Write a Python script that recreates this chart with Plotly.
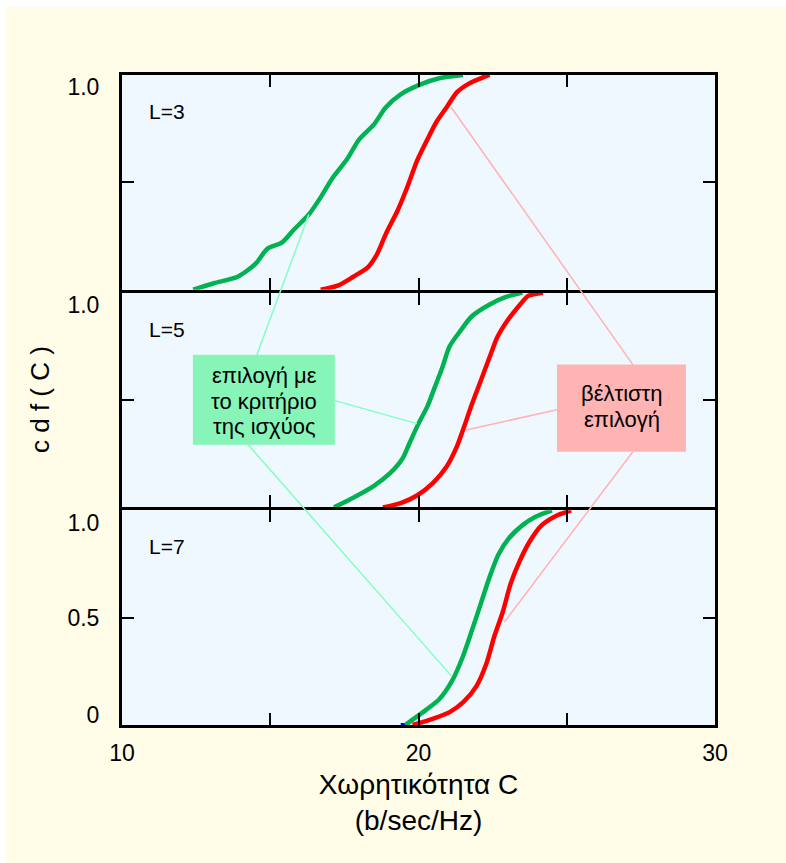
import plotly.graph_objects as go
from plotly.subplots import make_subplots

# ---------------- data ----------------
x_range = [10, 30]
x_label_vals = [10, 20, 30]
x_label_text = ["10", "20", "30"]
x_tick_marks = [15, 20, 25]
panel_labels = ["L=3", "L=5", "L=7"]

# L=3
l3_power_c = [12.4, 13.1, 13.9, 14.5, 14.9, 15.4, 15.8, 16.3, 16.7, 17.1, 17.6, 18.0, 18.5, 18.9, 19.4, 20.05, 20.7, 21.5]
l3_power_cdf = [0, 0.03, 0.06, 0.12, 0.19, 0.22, 0.28, 0.35, 0.43, 0.52, 0.61, 0.70, 0.77, 0.85, 0.91, 0.955, 0.985, 1.0]
l3_opt_c = [16.7, 17.3, 17.8, 18.3, 18.6, 18.9, 19.3, 19.6, 19.95, 20.3, 20.6, 20.95, 21.3, 21.7, 22.2, 22.4]
l3_opt_cdf = [0, 0.02, 0.06, 0.105, 0.165, 0.26, 0.37, 0.47, 0.60, 0.70, 0.78, 0.85, 0.92, 0.96, 0.99, 1.0]

# L=5
l5_power_c = [17.15, 17.8, 18.5, 19.05, 19.45, 19.7, 20.0, 20.3, 20.55, 20.8, 21.05, 21.4, 21.8, 22.4, 22.95, 23.5]
l5_power_cdf = [0, 0.045, 0.10, 0.16, 0.225, 0.30, 0.39, 0.47, 0.56, 0.65, 0.75, 0.82, 0.89, 0.945, 0.98, 1.0]
l5_opt_c = [18.8, 19.4, 19.95, 20.5, 20.95, 21.3, 21.55, 21.8, 22.1, 22.4, 22.65, 23.0, 23.4, 23.7, 24.2]
l5_opt_cdf = [0, 0.02, 0.055, 0.115, 0.19, 0.285, 0.38, 0.48, 0.59, 0.70, 0.79, 0.87, 0.94, 0.985, 1.0]

# L=7
l7_blue_c = [19.4, 19.7]
l7_blue_cdf = [0, 0]
l7_power_c = [19.55, 20.15, 20.7, 21.15, 21.5, 21.8, 22.1, 22.4, 22.7, 23.05, 23.5, 23.95, 24.5]
l7_power_cdf = [0, 0.06, 0.12, 0.21, 0.32, 0.44, 0.565, 0.69, 0.795, 0.87, 0.93, 0.97, 1.0]
l7_opt_c = [19.8, 20.5, 21.05, 21.5, 21.95, 22.3, 22.55, 22.85, 23.1, 23.4, 23.75, 24.15, 24.65, 25.15]
l7_opt_cdf = [0, 0.03, 0.06, 0.105, 0.18, 0.29, 0.41, 0.53, 0.655, 0.76, 0.855, 0.93, 0.975, 1.0]

power_series = [(l3_power_c, l3_power_cdf), (l5_power_c, l5_power_cdf), (l7_power_c, l7_power_cdf)]
opt_series = [(l3_opt_c, l3_opt_cdf), (l5_opt_c, l5_opt_cdf), (l7_opt_c, l7_opt_cdf)]

green_box_lines = ["επιλογή με", "το κριτήριο", "της ισχύος"]
red_box_lines = ["βέλτιστη", "επιλογή"]
# pointer targets on curves: (panel index, C, cdf)
green_targets = [(0, 16.3, 0.35), (1, 19.95, 0.39), (2, 21.1, 0.23)]
red_targets = [(0, 21.1, 0.85), (1, 21.6, 0.36), (2, 22.9, 0.48)]

# ---------------- styles ----------------
GREEN = "rgb(0,178,80)"
RED = "rgb(255,0,0)"
BLUE = "rgb(0,0,230)"
GREEN_BOX = "rgb(136,245,184)"
RED_BOX = "rgb(255,180,180)"
GREEN_PTR = "rgb(130,255,190)"
RED_PTR = "rgb(255,178,178)"
PAPER = "rgb(255,253,232)"
PLOT_BG = "rgb(240,248,255)"
FONT = "Liberation Sans, Arial, sans-serif"

W, H = 786, 863
ML, MR, MT, MB = 122, 71, 75, 138
PW, PH = W - ML - MR, H - MT - MB
LW = 3

fig = make_subplots(rows=3, cols=1, shared_xaxes=True, vertical_spacing=LW / PH)

for i in range(3):
    row = i + 1
    if i == 2:
        fig.add_trace(go.Scatter(x=l7_blue_c, y=l7_blue_cdf, mode="lines",
                                 line=dict(color=BLUE, width=4), showlegend=False,
                                 hoverinfo="skip"), row=row, col=1)
    fig.add_trace(go.Scatter(x=power_series[i][0], y=power_series[i][1], mode="lines",
                             line=dict(color=GREEN, width=4.5, shape="spline", smoothing=0.7),
                             showlegend=False), row=row, col=1)
    fig.add_trace(go.Scatter(x=opt_series[i][0], y=opt_series[i][1], mode="lines",
                             line=dict(color=RED, width=4.5, shape="spline", smoothing=0.7),
                             showlegend=False), row=row, col=1)

axis_common = dict(showline=True, linecolor="black", linewidth=LW, mirror="ticks",
                   showgrid=False, zeroline=False)

for i in range(3):
    row = i + 1
    fig.update_xaxes(range=x_range, tickmode="array", tickvals=x_label_vals, ticktext=x_label_text,
                     ticks="", showticklabels=(i == 2),
                     minor=dict(tickmode="array", tickvals=x_tick_marks, ticks="inside",
                                ticklen=12, tickwidth=2, tickcolor="black"),
                     tickfont=dict(family=FONT, size=23, color="black"),
                     ticklabelstandoff=5,
                     row=row, col=1, **axis_common)
    if i < 2:
        yv, yt = [0.944], ["1.0"]
    else:
        yv, yt = [0.046, 0.5, 0.94], ["0", "0.5", "1.0"]
    fig.update_yaxes(range=[0, 1], tickmode="array", tickvals=yv, ticktext=yt, ticks="",
                     minor=dict(tickmode="array", tickvals=[0.5], ticks="inside",
                                ticklen=12, tickwidth=2, tickcolor="black"),
                     tickfont=dict(family=FONT, size=23, color="black"),
                     ticklabelstandoff=15,
                     row=row, col=1, **axis_common)

fig.update_xaxes(title=dict(text="Χωρητικότητα C<br>(b/sec/Hz)",
                            font=dict(family=FONT, size=28, color="black"), standoff=10),
                 row=3, col=1)

doms = [fig.layout.yaxis.domain, fig.layout.yaxis2.domain, fig.layout.yaxis3.domain]


def paper_x(c):
    return (c - x_range[0]) / (x_range[1] - x_range[0])


def paper_y(panel, v):
    d = doms[panel]
    return d[0] + v * (d[1] - d[0])


shapes = []
# pointer lines (box anchor in panel-2 coordinates -> curve)
green_anchors = [(14.55, 0.711), (17.18, 0.497), (14.25, 0.292)]
red_anchors = [(27.23, 0.665), (24.67, 0.455), (27.23, 0.259)]
for (p, c, v), (ac, av) in zip(green_targets, green_anchors):
    shapes.append(dict(type="line", xref="paper", yref="paper",
                       x0=paper_x(ac), y0=paper_y(1, av), x1=paper_x(c), y1=paper_y(p, v),
                       line=dict(color=GREEN_PTR, width=1.5), layer="above"))
for (p, c, v), (ac, av) in zip(red_targets, red_anchors):
    shapes.append(dict(type="line", xref="paper", yref="paper",
                       x0=paper_x(ac), y0=paper_y(1, av), x1=paper_x(c), y1=paper_y(p, v),
                       line=dict(color=RED_PTR, width=1.5), layer="above"))
# label boxes
shapes.append(dict(type="rect", xref="x2", yref="y2", x0=12.39, x1=17.18, y0=0.292, y1=0.711,
                   fillcolor=GREEN_BOX, line=dict(width=0), layer="above"))
shapes.append(dict(type="rect", xref="x2", yref="y2", x0=24.67, x1=29.02, y0=0.259, y1=0.665,
                   fillcolor=RED_BOX, line=dict(width=0), layer="above"))
# white strips at top / left edge of the picture
shapes.append(dict(type="rect", xref="paper", yref="paper",
                   x0=-ML / PW - 0.01, x1=(W - ML) / PW + 0.01, y0=(H - MB - 7) / PH, y1=(H - MB) / PH + 0.01,
                   fillcolor="white", line=dict(width=0), layer="above"))
shapes.append(dict(type="rect", xref="paper", yref="paper",
                   x0=-ML / PW - 0.01, x1=(6 - ML) / PW, y0=-MB / PH - 0.01, y1=(H - MB) / PH + 0.01,
                   fillcolor="white", line=dict(width=0), layer="above"))

annotations = []
for k, t in enumerate(green_box_lines):
    annotations.append(dict(text=t, xref="x2", yref="y2", x=14.79, y=[0.616, 0.492, 0.376][k],
                            showarrow=False, font=dict(family=FONT, size=22, color="black"),
                            xanchor="center", yanchor="middle"))
for k, t in enumerate(red_box_lines):
    annotations.append(dict(text=t, xref="x2", yref="y2", x=26.85, y=[0.530, 0.408][k],
                            showarrow=False, font=dict(family=FONT, size=22, color="black"),
                            xanchor="center", yanchor="middle"))
for i, lab in enumerate(panel_labels):
    annotations.append(dict(text=lab, xref="paper", yref="paper", x=paper_x(10.85), y=paper_y(i, 0.83),
                            showarrow=False, font=dict(family=FONT, size=21, color="black"),
                            xanchor="left", yanchor="middle"))
annotations.append(dict(text="c d f ( C )", xref="paper", yref="paper", x=(40 - ML) / PW, y=0.5,
                        textangle=-90, showarrow=False,
                        font=dict(family=FONT, size=26, color="black"),
                        xanchor="center", yanchor="middle"))

fig.update_layout(width=W, height=H, margin=dict(l=ML, r=MR, t=MT, b=MB),
                  paper_bgcolor=PAPER, plot_bgcolor=PLOT_BG,
                  shapes=shapes, annotations=annotations, showlegend=False,
                  font=dict(family=FONT, color="black"))

fig.write_html("out.html")
